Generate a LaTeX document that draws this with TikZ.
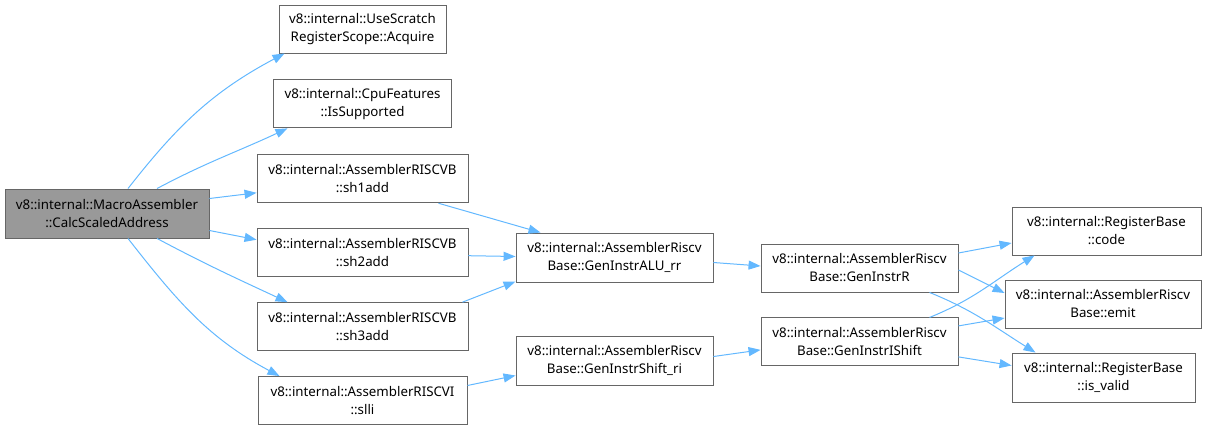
\documentclass[tikz,border=0pt]{standalone}
\usepackage{fontspec}
\setmainfont{Noto Sans}
\usetikzlibrary{arrows.meta,positioning}
\definecolor{edge}{HTML}{63B8FF}
\definecolor{frame}{HTML}{666666}
\definecolor{curfill}{HTML}{999999}
\tikzset{
  fn/.style   ={draw=frame,line width=.9pt,fill=white,align=center,inner sep=2pt,
                font=\fontsize{13.3}{18}\selectfont,minimum height=48pt},
  cur/.style  ={fn,fill=curfill},
  call/.style ={-{Triangle[length=12pt,width=9pt]},line width=1pt,draw=edge},
}
\begin{document}
\begin{tikzpicture}[x=1pt,y=1pt,node distance=25pt]
  \useasboundingbox (0,0) rectangle (1207,-426);
  % caller
  \node[cur,minimum width=204pt,minimum height=49pt] (calc) at (107,-213.5)
        {v8::internal::MacroAssembler\\::CalcScaledAddress};

  % direct callees
  \node[fn,minimum width=167pt] (acq) at (362.5,-29)
        {v8::internal::UseScratch\\RegisterScope::Acquire};
  \node[fn,minimum width=178pt,below=26pt of acq] (issup)
        {v8::internal::CpuFeatures\\::IsSupported};
  \node[fn,minimum width=211pt,below=26pt of issup] (sh1)
        {v8::internal::AssemblerRISCVB\\::sh1add};
  \node[fn,minimum width=211pt,below=of sh1] (sh2)
        {v8::internal::AssemblerRISCVB\\::sh2add};
  \node[fn,minimum width=211pt,below=of sh2] (sh3)
        {v8::internal::AssemblerRISCVB\\::sh3add};
  \node[fn,minimum width=209pt,below=of sh3] (slli)
        {v8::internal::AssemblerRISCVI\\::slli};

  % second level
  \node[fn,minimum width=197pt,minimum height=49pt] (alurr) at (614.5,-257.5)
        {v8::internal::AssemblerRiscv\\Base::GenInstrALU\_rr};
  \node[fn,minimum width=197pt,minimum height=49pt] (shiftri) at (614.5,-360.5)
        {v8::internal::AssemblerRiscv\\Base::GenInstrShift\_ri};
  \node[fn,minimum width=197pt] (genr) at (859.5,-268)
        {v8::internal::AssemblerRiscv\\Base::GenInstrR};
  \node[fn,minimum width=197pt,below=of genr] (genis)
        {v8::internal::AssemblerRiscv\\Base::GenInstrIShift};

  % leaves
  \node[fn,minimum width=189pt] (code) at (1106.5,-231)
        {v8::internal::RegisterBase\\::code};
  \node[fn,minimum width=196pt] (emit) at (1103,-304)
        {v8::internal::AssemblerRiscv\\Base::emit};
  \node[fn,minimum width=183pt,minimum height=49pt] (valid) at (1103.5,-377.5)
        {v8::internal::RegisterBase\\::is\_valid};

  % calls from the caller
  \draw[call] ([xshift=21pt]calc.north) to[out=52,in=208] ([xshift=-78pt]acq.south);
  \draw[call] ([xshift=50pt]calc.north) to[out=28,in=205] ([xshift=-75pt]issup.south);
  \draw[call] ([yshift=15pt]calc.east) -- ([yshift=-14pt]sh1.west);
  \draw[call] ([yshift=-17pt]calc.east) -- ([yshift=13pt]sh2.west);
  \draw[call] ([xshift=50pt]calc.south) to[out=-28,in=155] ([xshift=-75pt]sh3.north);
  \draw[call] ([xshift=21pt]calc.south) to[out=-52,in=152] ([xshift=-83pt]slli.north);

  % second level calls
  \draw[call] ([xshift=76pt]sh1.south) -- ([xshift=-74pt]alurr.north);
  \draw[call] ([yshift=-3pt]sh2.east) -- ([yshift=1pt]alurr.west);
  \draw[call] ([xshift=100pt]sh3.north) -- ([yshift=-24pt]alurr.west);
  \draw[call] ([yshift=15pt]slli.east) -- ([yshift=-15pt]shiftri.west);
  \draw[call] ([yshift=-5pt]alurr.east) -- ([yshift=2pt]genr.west);
  \draw[call] ([yshift=4pt]shiftri.east) -- ([yshift=-8pt]genis.west);

  % leaf calls
  \draw[call] ([yshift=15pt]genr.east) -- ([yshift=-12pt]code.west);
  \draw[call] ([yshift=-2pt]genr.east) -- ([yshift=11pt]emit.west);
  \draw[call] ([xshift=70pt]genr.south) to[out=-22,in=148] ([xshift=-68pt]valid.north);
  \draw[call] ([xshift=70pt]genis.north) to[out=22,in=212] ([xshift=-72pt]code.south);
  \draw[call] ([yshift=16pt]genis.east) -- ([yshift=-14pt]emit.west);
  \draw[call] ([yshift=-15pt]genis.east) -- ([yshift=12pt]valid.west);
\end{tikzpicture}
\end{document}
